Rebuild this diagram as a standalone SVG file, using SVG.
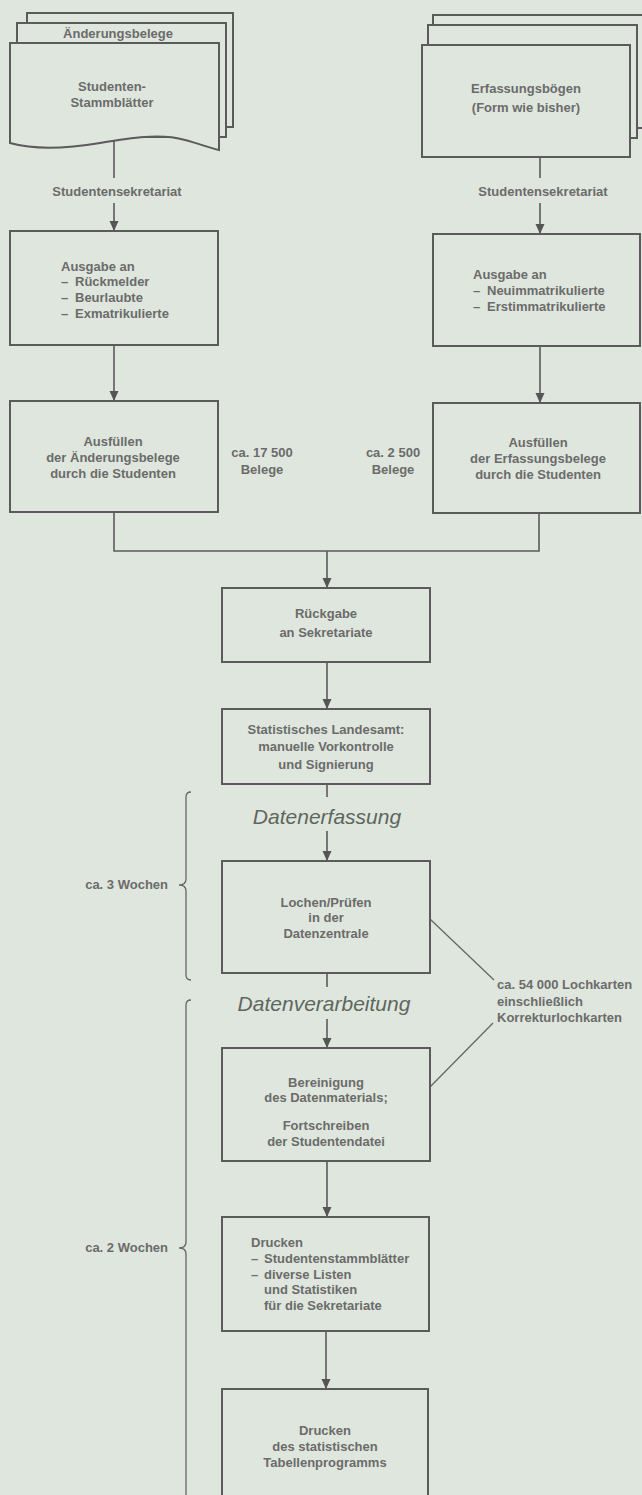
<svg xmlns="http://www.w3.org/2000/svg" width="642" height="1495" viewBox="0 0 642 1495">
<style>
.bg{fill:#dfe6dd}
.box{fill:none;stroke:#5b5b5b;stroke-width:2}
.sheet{fill:#dfe6dd;stroke:#5b5b5b;stroke-width:2}
.ln{fill:none;stroke:#5b5b5b;stroke-width:1.6}
.thin{fill:none;stroke:#666;stroke-width:1.3}
text{font-family:"Liberation Sans",Arial,sans-serif;font-size:13px;font-weight:bold;fill:#6b6b6b}
.c{text-anchor:middle}
.e{text-anchor:end}
.it{font-size:21px;font-style:italic;font-weight:normal;fill:#5e665e}
</style>
<defs>
<marker id="ah" markerUnits="userSpaceOnUse" markerWidth="10" markerHeight="10" refX="10" refY="5" orient="auto">
<path d="M0,0.5 L10,5 L0,9.5 Z" fill="#555"/>
</marker>
</defs>
<rect class="bg" x="0" y="0" width="642" height="1495"/>

<g id="connectors">
<line class="ln" x1="114" y1="141" x2="114" y2="178"/>
<line class="ln" x1="114" y1="203" x2="114" y2="231" marker-end="url(#ah)"/>
<line class="ln" x1="540" y1="157" x2="540" y2="178"/>
<line class="ln" x1="540" y1="203" x2="540" y2="234" marker-end="url(#ah)"/>
<line class="ln" x1="114" y1="345" x2="114" y2="401" marker-end="url(#ah)"/>
<line class="ln" x1="540" y1="346" x2="540" y2="403" marker-end="url(#ah)"/>
<polyline class="ln" points="114,512 114,551 539,551 539,513"/>
<line class="ln" x1="327" y1="551" x2="327" y2="588" marker-end="url(#ah)"/>
<line class="ln" x1="327" y1="662" x2="327" y2="709" marker-end="url(#ah)"/>
<line class="ln" x1="327" y1="784" x2="327" y2="797"/>
<line class="ln" x1="327" y1="831" x2="327" y2="861" marker-end="url(#ah)"/>
<line class="ln" x1="327" y1="973" x2="327" y2="987"/>
<line class="ln" x1="327" y1="1019" x2="327" y2="1048" marker-end="url(#ah)"/>
<line class="ln" x1="327" y1="1161" x2="327" y2="1217" marker-end="url(#ah)"/>
<line class="ln" x1="326" y1="1331" x2="326" y2="1389" marker-end="url(#ah)"/>
<line class="thin" x1="430" y1="919" x2="494" y2="980"/>
<line class="thin" x1="493" y1="1023" x2="430" y2="1087"/>
<path class="thin" d="M191,792 Q186,792 186,797 L186,879 Q186,885 179,885 Q186,885 186,891 L186,975 Q186,980 191,980"/>
<path class="thin" d="M191,1000 Q186,1000 186,1005 L186,1242 Q186,1248 179,1248 Q186,1248 186,1254 L186,1500"/>
</g>

<g id="doc-left">
<rect class="sheet" x="27" y="13" width="206" height="114"/>
<rect class="sheet" x="17" y="23" width="209" height="114"/>
<text class="c" x="118" y="38">Änderungsbelege</text>
<path class="sheet" d="M10,43 H219 V150 C210,148 200,144 185,140 C160,133 130,138 100,143 C70,148 35,150 10,143 Z"/>
<text class="c" x="112" y="91">Studenten-</text>
<text class="c" x="112" y="107">Stammblätter</text>
</g>

<g id="doc-right">
<rect class="sheet" x="433" y="15" width="230" height="113"/>
<rect class="sheet" x="428" y="25" width="209" height="113"/>
<rect class="sheet" x="422" y="45" width="208" height="112"/>
<text class="c" x="526" y="93">Erfassungsbögen</text>
<text class="c" x="526" y="112">(Form wie bisher)</text>
</g>

<g id="label-sek-left"><text class="c" x="117" y="196">Studentensekretariat</text></g>
<g id="label-sek-right"><text class="c" x="543" y="196">Studentensekretariat</text></g>

<g id="ausgabe-left">
<rect class="box" x="10" y="231" width="208" height="114"/>
<text x="61" y="271">Ausgabe an</text>
<text x="61" y="286">–</text><text x="75" y="286">Rückmelder</text>
<text x="61" y="302">–</text><text x="75" y="302">Beurlaubte</text>
<text x="61" y="318">–</text><text x="75" y="318">Exmatrikulierte</text>
</g>

<g id="ausgabe-right">
<rect class="box" x="433" y="234" width="207" height="112"/>
<text x="473" y="279">Ausgabe an</text>
<text x="473" y="295">–</text><text x="487" y="295">Neuimmatrikulierte</text>
<text x="473" y="311">–</text><text x="487" y="311">Erstimmatrikulierte</text>
</g>

<g id="ausfuellen-left">
<rect class="box" x="10" y="401" width="208" height="111"/>
<text class="c" x="113" y="446">Ausfüllen</text>
<text class="c" x="113" y="462">der Änderungsbelege</text>
<text class="c" x="113" y="478">durch die Studenten</text>
</g>

<g id="ausfuellen-right">
<rect class="box" x="433" y="403" width="207" height="110"/>
<text class="c" x="538" y="447">Ausfüllen</text>
<text class="c" x="538" y="463">der Erfassungsbelege</text>
<text class="c" x="538" y="479">durch die Studenten</text>
</g>

<g id="count-left">
<text class="c" x="262" y="457">ca. 17 500</text>
<text class="c" x="262" y="474">Belege</text>
</g>
<g id="count-right">
<text class="c" x="393" y="457">ca. 2 500</text>
<text class="c" x="393" y="474">Belege</text>
</g>

<g id="rueckgabe">
<rect class="box" x="222" y="588" width="208" height="74"/>
<text class="c" x="326" y="618">Rückgabe</text>
<text class="c" x="326" y="637">an Sekretariate</text>
</g>

<g id="landesamt">
<rect class="box" x="222" y="709" width="208" height="75"/>
<text class="c" x="326" y="734">Statistisches Landesamt:</text>
<text class="c" x="326" y="751">manuelle Vorkontrolle</text>
<text class="c" x="326" y="769">und Signierung</text>
</g>

<g id="phase-erfassung"><text class="c it" x="327" y="824">Datenerfassung</text></g>

<g id="lochen">
<rect class="box" x="222" y="861" width="208" height="112"/>
<text class="c" x="326" y="907">Lochen/Prüfen</text>
<text class="c" x="326" y="922">in der</text>
<text class="c" x="326" y="938">Datenzentrale</text>
</g>

<g id="phase-verarbeitung"><text class="c it" x="324" y="1011">Datenverarbeitung</text></g>

<g id="lochkarten">
<text x="497" y="989">ca. 54 000 Lochkarten</text>
<text x="497" y="1006">einschließlich</text>
<text x="497" y="1022">Korrekturlochkarten</text>
</g>

<g id="bereinigung">
<rect class="box" x="222" y="1048" width="208" height="113"/>
<text class="c" x="326" y="1087">Bereinigung</text>
<text class="c" x="326" y="1102">des Datenmaterials;</text>
<text class="c" x="326" y="1130">Fortschreiben</text>
<text class="c" x="326" y="1146">der Studentendatei</text>
</g>

<g id="drucken-listen">
<rect class="box" x="222" y="1217" width="207" height="114"/>
<text x="251" y="1247">Drucken</text>
<text x="251" y="1263">–</text><text x="264" y="1263">Studentenstammblätter</text>
<text x="251" y="1279">–</text><text x="264" y="1279">diverse  Listen</text>
<text x="264" y="1294">und Statistiken</text>
<text x="264" y="1310">für die Sekretariate</text>
</g>

<g id="drucken-tabellen">
<path class="box" d="M222,1500 V1389 H428 V1500"/>
<text class="c" x="325" y="1435">Drucken</text>
<text class="c" x="325" y="1451">des statistischen</text>
<text class="c" x="325" y="1467">Tabellenprogramms</text>
</g>

<g id="brace-labels">
<text class="e" x="168" y="889">ca. 3 Wochen</text>
<text class="e" x="168" y="1252">ca. 2 Wochen</text>
</g>
</svg>
